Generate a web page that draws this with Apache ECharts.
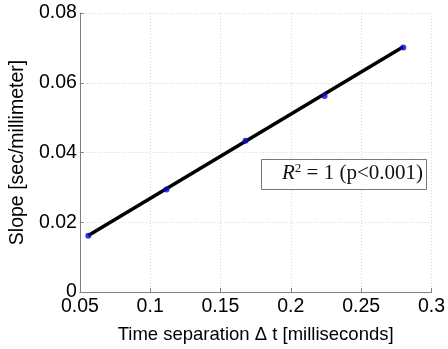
<!DOCTYPE html>
<html><head><meta charset="utf-8">
<script src="https://cdn.jsdelivr.net/npm/echarts@6/dist/echarts.min.js"></script>
<style>html,body{margin:0;padding:0;background:#fff}#c{width:448px;height:349px}</style>
</head><body><div id="c"></div>
<script>
var xValues = [0.056, 0.1116, 0.1678, 0.224, 0.280];
var yValues = [0.0161, 0.0294, 0.0434, 0.0562, 0.0701];
var fitX = [0.056, 0.280];
var fitY = [0.0162, 0.0703];
var xTicks = [0.05, 0.1, 0.15, 0.2, 0.25, 0.3];
var yTicks = [0, 0.02, 0.04, 0.06, 0.08];
var xTitle = 'Time separation \u0394 t [milliseconds]';
var yTitle = 'Slope [sec/millimeter]';

var chart = echarts.init(document.getElementById('c'), null, {renderer:'canvas'});
var sans = 'Liberation Sans, Arial, sans-serif';
var serif = 'Liberation Serif, serif';
chart.setOption({
  animation:false,
  grid:{left:69, right:14, top:13, bottom:56},
  xAxis:{type:'value', min:xTicks[0], max:xTicks[xTicks.length-1], interval:0.05,
    name:xTitle, nameLocation:'middle', nameGap:33,
    nameTextStyle:{fontFamily:sans, fontSize:18.5, color:'#000'},
    axisLine:{show:true, onZero:false, lineStyle:{color:'#808080', width:1}},
    axisTick:{show:true, inside:true, length:4, lineStyle:{color:'#808080'}},
    axisLabel:{fontFamily:sans, fontSize:19.5, color:'#000', margin:5,
      formatter:function(v){return String(+v.toFixed(2));}},
    splitLine:{show:true, lineStyle:{color:'#d4d4d4', type:[1,2], width:1}}
  },
  yAxis:{type:'value', min:yTicks[0], max:yTicks[yTicks.length-1], interval:0.02,
    name:yTitle, nameLocation:'middle', nameGap:48,
    nameTextStyle:{fontFamily:sans, fontSize:19.5, color:'#000'},
    axisLine:{show:true, lineStyle:{color:'#808080', width:1}},
    axisTick:{show:true, inside:true, length:4, lineStyle:{color:'#808080'}},
    axisLabel:{fontFamily:sans, fontSize:19.5, color:'#000', margin:3,
      formatter:function(v){return String(+v.toFixed(2));}},
    splitLine:{show:true, lineStyle:{color:'#d4d4d4', type:[1,2], width:1}}
  },
  series:[
    {type:'line', data:fitX.map(function(x,i){return [x,fitY[i]];}), symbol:'none',
      lineStyle:{color:'#000', width:3.5}, z:2},
    {type:'scatter', data:xValues.map(function(x,i){return [x,yValues[i]];}),
      symbolSize:6, itemStyle:{color:'#0a0ad0'}, z:3}
  ],
  graphic:[
    {type:'rect', left:261, top:159, shape:{width:165, height:30},
      style:{fill:'#fff', stroke:'#777', lineWidth:1}, z:10},
    {type:'text', right:25, top:162, z:11,
      style:{text:'{i|R}{s|2}{n| = 1 (p<0.001)}', rich:{
        i:{fontFamily:serif, fontStyle:'italic', fontSize:21, fill:'#111'},
        s:{fontFamily:serif, fontSize:13, fill:'#111', verticalAlign:'top', padding:[0,0,9,0]},
        n:{fontFamily:serif, fontSize:21, fill:'#111'}
      }}}
  ]
});
</script></body></html>
